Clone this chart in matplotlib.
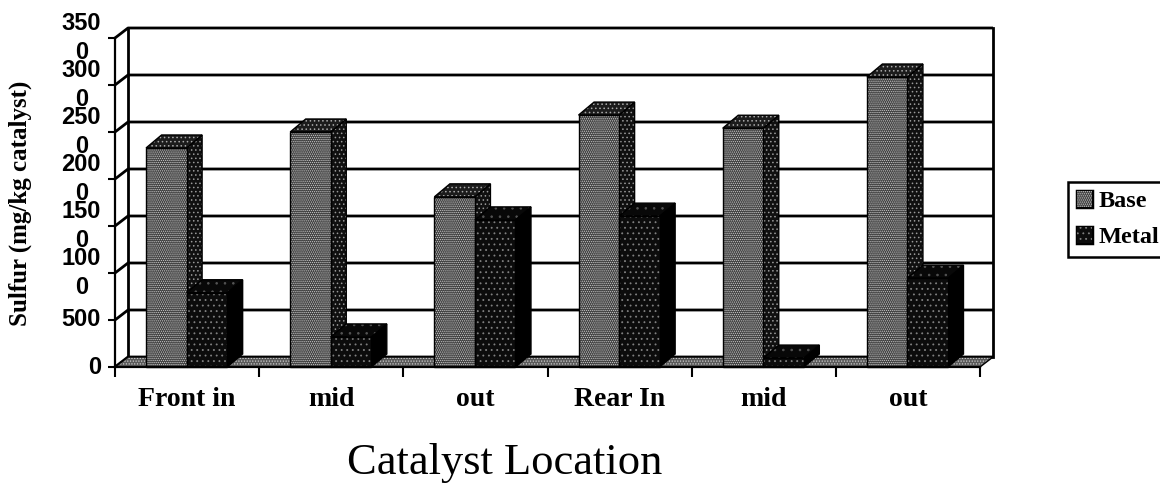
import numpy as np
import matplotlib
matplotlib.use("Agg")
import matplotlib.pyplot as plt
from matplotlib.patches import Patch
from matplotlib.patheffects import withStroke

categories = ["Front in", "mid", "out", "Rear In", "mid", "out"]
base = [2330, 2500, 1810, 2680, 2540, 3085]
metal = [790, 320, 1565, 1605, 95, 945]
yticks = [0, 500, 1000, 1500, 2000, 2500, 3000, 3500]
ylabels = ["0", "500", "100\n0", "150\n0", "200\n0", "250\n0", "300\n0", "350\n0"]

plt.rcParams["hatch.linewidth"] = 0.6

W, H = 1160, 490
fig = plt.figure(figsize=(W / 100, H / 100), dpi=100)
ax = fig.add_axes([115 / W, (H - 367) / H, 865 / W, 329 / H])
ax.set_xlim(0, 6)
ax.set_ylim(0, 3500)

# depth of the fake 3d box, in data units
DX = 13 / 144
DY = 10 / 47 * 500
# bars look a little deeper than the floor
BAR_DX = 15.5 / 144
BAR_DY = 13 / 47 * 500
BAR_W = 40.5 / 144
BAR_OFF = 31 / 144


def poly(xs, ys, face, dots=None, dot_color="white", z=3):
    # dots first, black outline on top, hatch colour comes from edgecolor
    ax.fill(xs, ys, facecolor=face, edgecolor=dot_color, hatch=dots, linewidth=0,
            clip_on=False, zorder=z)
    ax.fill(xs, ys, facecolor="none", edgecolor="black", linewidth=1.0,
            clip_on=False, zorder=z)


def draw_bar(x, val, front, side, top):
    poly([x + BAR_W, x + BAR_W + BAR_DX, x + BAR_W + BAR_DX, x + BAR_W],
         [0, BAR_DY, val + BAR_DY, val], *side)
    poly([x, x + BAR_DX, x + BAR_W + BAR_DX, x + BAR_W],
         [val, val + BAR_DY, val + BAR_DY, val], *top)
    poly([x, x + BAR_W, x + BAR_W, x], [0, 0, val, val], *front)


BASE_FRONT = ("#404040", "........", "#cccccc")
BASE_SIDE = ("#101010", "....", "#999999")
BASE_TOP = ("#1c1c1c", "....", "#aaaaaa")
METAL_FRONT = ("#0c0c0c", "...", "#808080")
METAL_SIDE = ("#000000", None, "#000000")
METAL_TOP = ("#080808", "..", "#555555")

# back wall and grid
for y in yticks:
    ax.plot([0, DX, 6 + DX], [y, y + DY, y + DY], color="black", lw=2.0,
            clip_on=False, zorder=1, solid_capstyle="butt")
ax.plot([DX, DX], [DY, 3500 + DY], color="black", lw=2.0, clip_on=False, zorder=1)
ax.plot([6 + DX, 6 + DX], [DY, 3500 + DY], color="black", lw=2.0, clip_on=False, zorder=1)

# floor
poly([0, DX, 6 + DX, 6], [0, DY, DY, 0], "#5a5a5a", "......", "#cccccc", z=2)

for i in range(len(categories)):
    draw_bar(i + BAR_OFF, base[i], BASE_FRONT, BASE_SIDE, BASE_TOP)
    draw_bar(i + BAR_OFF + BAR_W, metal[i], METAL_FRONT, METAL_SIDE, METAL_TOP)

for s in ["top", "right"]:
    ax.spines[s].set_visible(False)
for s in ["left", "bottom"]:
    ax.spines[s].set_linewidth(1.6)
    ax.spines[s].set_zorder(6)

ax.set_yticks(yticks)
ax.set_yticklabels(ylabels, family="Liberation Sans", fontweight="bold", fontsize=17,
                   linespacing=1.32, ma="center", va="center")
ax.tick_params(axis="y", length=5, width=1.5, pad=5)
ax.set_xticks(range(7))
ax.set_xticklabels([""] * 7)
ax.tick_params(axis="x", length=7, width=1.5)
for i, c in enumerate(categories):
    ax.text(i + 0.5, -350, c, ha="center", va="center", family="Liberation Serif",
            fontweight="bold", fontsize=20)

fig.text(20 / W, 1 - 203 / H, "Sulfur (mg/kg catalyst)", rotation=90, ha="center", va="center",
         family="Liberation Serif", fontweight="bold", fontsize=18)
fig.text(505 / W, 1 - 463 / H, "Catalyst Location", ha="center", va="center",
         family="Liberation Serif", fontsize=32)

stroke = [withStroke(linewidth=2.5, foreground="black")]
handles = [Patch(facecolor="#404040", edgecolor="#cccccc", hatch="........", lw=0,
                 path_effects=stroke, label="Base"),
           Patch(facecolor="#0c0c0c", edgecolor="#808080", hatch="...", lw=0,
                 path_effects=stroke, label="Metal")]
leg = fig.legend(handles=handles, loc="upper left", bbox_to_anchor=(1068 / W, 1 - 182 / H),
                 bbox_transform=fig.transFigure, frameon=True, fancybox=False, framealpha=1,
                 edgecolor="black", handlelength=0.65, handleheight=0.65, handletextpad=0.25,
                 borderpad=0.35, labelspacing=0.6, borderaxespad=0,
                 prop={"family": "Liberation Serif", "weight": "bold", "size": 17.5})
leg.get_frame().set_linewidth(1.8)

fig.savefig("out.png", dpi=100, facecolor="white")
